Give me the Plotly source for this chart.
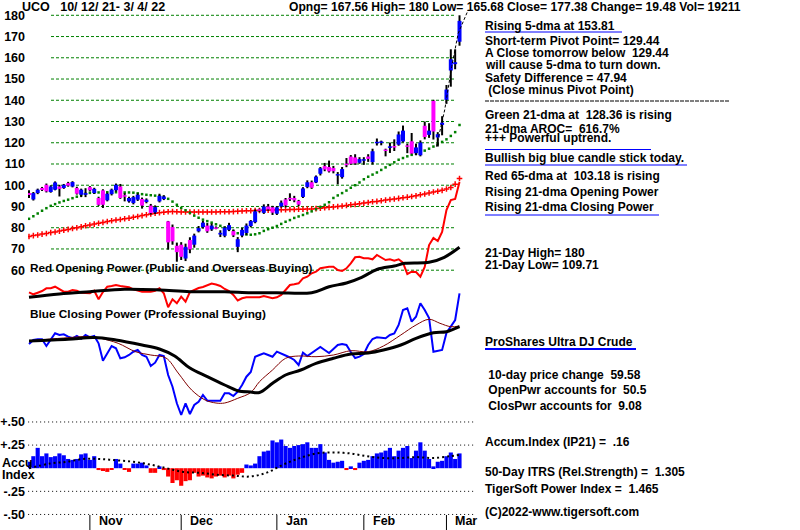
import plotly.graph_objects as go

# ---- daily price data, UCO 10/12/21 - 3/4/22 (100 sessions) ----
days = list(range(100))
opens = [96.3, 93.3, 96.3, 98.7, 100.2, 96.8, 97.9, 99.4, 98.7, 101.0,
         99.4, 98.7, 95.5, 95.5, 99.1, 96.3, 94.0, 97.6, 92.9, 95.8,
         97.6, 99.4, 95.2, 92.4, 91.6, 93.2, 93.5, 92.1, 90.4, 87.2,
         92.4, 93.5, 83.0, 80.3, 71.5, 72.0, 65.5, 74.2, 72.0, 78.3,
         80.3, 81.0, 79.2, 80.0, 76.8, 76.2, 79.0, 78.4, 71.0, 76.3,
         77.5, 80.8, 82.6, 88.6, 87.0, 90.0, 89.6, 86.6, 90.0, 93.3,
         94.0, 94.0, 92.6, 94.5, 99.2, 101.4, 101.3, 105.4, 109.0, 108.6,
         108.1, 104.6, 103.8, 110.0, 113.5, 113.1, 110.6, 111.6, 113.5, 110.9,
         119.9, 120.1, 116.8, 117.6, 118.3, 119.1, 120.6, 118.6, 120.7, 115.1,
         114.1, 128.0, 123.7, 139.7, 122.5, 128.4, 140.2, 154.0, 157.0, 167.56]
highs = [97.6, 96.8, 98.4, 99.2, 100.8, 100.0, 101.8, 100.2, 100.6, 101.6,
         101.9, 99.3, 98.4, 98.6, 99.6, 98.8, 94.6, 98.1, 96.5, 98.4,
         100.8, 100.6, 96.3, 94.6, 95.0, 96.2, 94.2, 93.8, 91.2, 90.5,
         96.0, 95.3, 83.2, 81.5, 73.0, 73.2, 72.5, 75.5, 77.2, 80.8,
         83.2, 82.2, 82.0, 80.6, 78.8, 80.6, 82.3, 79.2, 75.6, 80.0,
         82.0, 83.6, 88.6, 89.0, 91.0, 91.2, 90.3, 90.2, 92.8, 94.0,
         96.2, 95.0, 93.1, 99.1, 102.3, 102.2, 104.6, 108.6, 110.5, 111.6,
         109.1, 106.2, 108.6, 112.8, 114.2, 114.6, 113.2, 113.2, 114.6, 117.2,
         122.0, 121.0, 117.2, 120.1, 121.6, 125.3, 128.1, 119.6, 124.6, 119.6,
         121.1, 130.0, 129.2, 140.2, 125.0, 132.5, 147.2, 164.0, 164.0, 180.0]
lows = [94.0, 92.8, 95.8, 97.3, 96.6, 96.5, 97.6, 94.7, 98.3, 99.3,
        99.0, 95.6, 94.4, 94.4, 97.1, 95.9, 90.3, 89.3, 92.4, 95.2,
        97.0, 93.6, 92.4, 91.8, 91.0, 92.6, 89.0, 91.5, 86.2, 86.5,
        91.9, 93.0, 69.7, 72.0, 64.0, 64.8, 64.3, 68.0, 70.6, 77.8,
        79.6, 77.6, 78.5, 79.3, 75.6, 75.5, 78.4, 75.6, 68.5, 75.5,
        76.6, 80.2, 82.1, 87.3, 86.5, 88.0, 86.0, 86.0, 89.5, 89.6,
        92.6, 92.0, 90.2, 94.0, 98.6, 98.3, 101.0, 104.6, 106.6, 106.0,
        105.6, 100.4, 103.1, 108.5, 109.6, 109.6, 110.1, 109.6, 111.0, 109.71,
        118.7, 118.8, 113.6, 115.2, 116.1, 118.6, 120.1, 115.1, 114.6, 114.1,
        113.6, 121.6, 122.3, 121.5, 118.2, 123.5, 138.3, 146.4, 154.6, 165.68]
closes = [95.4, 96.3, 97.9, 97.8, 97.1, 99.4, 101.3, 98.3, 100.2, 99.8,
          101.5, 96.0, 97.9, 96.3, 97.6, 98.3, 90.8, 90.8, 96.0, 97.9,
          100.2, 94.0, 94.7, 94.0, 94.4, 95.5, 90.4, 93.2, 86.9, 89.7,
          95.0, 94.7, 73.1, 73.6, 68.5, 66.3, 71.0, 69.8, 76.3, 79.8,
          82.4, 78.3, 81.0, 79.6, 77.6, 80.0, 81.2, 76.4, 74.6, 79.0,
          81.0, 83.2, 87.7, 88.1, 90.0, 88.6, 87.1, 89.6, 91.8, 90.5,
          93.4, 92.9, 90.9, 98.5, 101.4, 98.8, 104.1, 108.0, 107.4, 106.5,
          106.6, 105.2, 107.6, 109.6, 110.1, 110.3, 112.3, 112.2, 112.4, 116.0,
          120.3, 120.4, 116.1, 118.3, 117.9, 123.9, 125.7, 118.2, 114.9, 117.8,
          120.1, 122.7, 125.7, 125.3, 124.0, 129.44, 145.03, 159.3, 157.9, 177.38]

# green 21-dma and red 65-dma of price
ma21 = [84.2, 85.4, 86.7, 88.0, 89.2, 90.3, 91.1, 91.9, 92.6, 93.2,
        93.9, 94.6, 95.3, 96.0, 96.4, 96.5, 96.6, 96.7, 96.7, 96.7,
        96.7, 96.7, 96.6, 96.6, 96.5, 96.2, 95.8, 95.5, 95.3, 95.1,
        94.9, 94.5, 93.6, 92.3, 90.8, 89.3, 88.2, 87.0, 85.7, 84.7,
        83.8, 83.1, 82.4, 81.6, 80.9, 80.1, 79.2, 78.4, 77.4, 76.9,
        76.8, 76.7, 76.9, 77.4, 78.5, 79.3, 80.0, 80.8, 81.8, 82.8,
        83.6, 84.6, 85.3, 86.0, 86.8, 87.7, 88.7, 89.7, 90.8, 92.0,
        94.0, 95.2, 96.3, 97.5, 98.8, 100.0, 101.3, 102.8, 104.0, 105.0,
        106.0, 107.2, 108.4, 109.6, 110.8, 112.0, 112.8, 113.6, 114.3, 114.9,
        115.5, 116.3, 117.2, 118.2, 119.3, 120.4, 121.6, 123.2, 125.0, 128.36]
ma65 = [75.9, 76.3, 76.6, 77.0, 77.3, 77.7, 78.0, 78.4, 78.8, 79.2,
        79.6, 80.0, 80.4, 80.9, 81.3, 81.7, 82.1, 82.5, 82.9, 83.3,
        83.6, 83.9, 84.2, 84.5, 84.9, 85.3, 85.7, 86.1, 86.5, 86.8,
        87.1, 87.3, 87.5, 87.6, 87.5, 87.4, 87.4, 87.4, 87.4, 87.4,
        87.4, 87.4, 87.4, 87.4, 87.5, 87.5, 87.5, 87.6, 87.7, 87.9,
        88.0, 88.0, 88.1, 88.1, 88.2, 88.3, 88.4, 88.5, 88.5, 88.5,
        88.6, 88.6, 88.7, 88.7, 88.8, 88.8, 89.0, 89.2, 89.4, 89.6,
        89.8, 90.0, 90.2, 90.5, 90.8, 91.0, 91.3, 91.6, 91.9, 92.2,
        92.4, 92.7, 93.0, 93.3, 93.5, 93.8, 94.1, 94.4, 94.7, 95.0,
        95.5, 95.9, 96.4, 96.8, 97.2, 97.6, 98.2, 98.9, 100.5, 103.18]
trend_x = [93.7, 95.6, 97.2, 98.7, 101]
trend_y = [118.2, 135.5, 155.8, 171.5, 182.5]

# Red Opening Power and its 21-dma (arbitrary units)
open_power = [7.7, 5.7, 7.3, 9, 11.7, 11.7, 13.3, 10.7, 8.3, 8.3,
              10, 9.3, 7.3, 7, 6.7, 9.3, 0.7, 8, 13.3, 14,
              15, 14, 13.3, 12.7, 10.7, 9.3, 8.3, 8.3, 8.3, 9.3,
              11.7, 6.7, -7.3, 0.7, -3.3, 3.3, -1.7, 8, 10, 12,
              13, 15, 16.5, 15.5, 14, 11, 9, 5, -0.5, 1.7,
              2.7, 2.7, 2.7, 2.7, 4, 2.7, 1.7, 2.7, 5, 10,
              15, 15.7, 16.7, 21.7, 23.3, 26.7, 28.3, 31.7, 32.7, 33.3,
              33.3, 30, 29, 31.7, 36.7, 42.7, 43.3, 41.7, 41.7, 40.7,
              45, 42.7, 40, 40.7, 39.3, 40.7, 37.3, 26, 28.3, 28,
              23.3, 33, 55, 62, 59, 68, 90, 100, 101, 118]
op_ma_x = [0, 7, 14, 22, 30, 37, 45, 51, 57, 65, 69, 73, 76.5, 80, 84, 86.5, 92, 95.5, 99]
op_ma = [2.7, 6, 8.3, 10.7, 10, 8.3, 8.3, 7.3, 7.3, 7.3, 13.3, 17, 22.7, 30.5, 34, 36.7, 37.7, 42.7, 52.7]

# Blue Closing Power, its fast average (brown) and 21-dma (black)
close_power = [56, 60, 60.7, 60.7, 54, 60, 66.7, 65, 65.7, 63.3,
               61.7, 64, 61.3, 65, 62.7, 64, 56.7, 39.3, 46, 54,
               51.7, 41.7, 42.7, 45, 48.3, 50, 45, 43.3, 34, 37.3,
               45, 44, 25, 13.3, -3.3, -15, -3.3, -14, -5, -1.7,
               5, -0.7, -0.7, -0.7, -0.7, 6.7, 6.7, 4, 8.3, 15,
               23.3, 28, 43.3, 45, 46.7, 45, 43.3, 48.3, 46, 44.5,
               42.5, 40, 35, 47.3, 44, 47, 50, 53, 50, 47,
               51, 55, 56, 55, 48, 42, 43.3, 46, 55, 61,
               62.7, 62, 61.7, 65, 66.5, 75, 90, 91.7, 78.3, 83.3,
               96.7, 90, 82, 48.3, 49, 50, 67, 73.3, 80, 106.7]
cp_fast_x = [0, 8, 14.5, 16.5, 20.5, 24.5, 28, 31.5, 34.3, 37.4, 40.5, 43, 45, 48, 51,
             53, 56, 59, 62, 66, 70, 74, 78, 81.5, 85.5, 89, 92, 94.5, 97, 99]
cp_fast = [59, 62, 63.5, 61.7, 56.7, 48.3, 45, 42, 27, 10, 0, -3, -3, 1.7, 7.5,
           18.3, 30, 41.7, 44, 43.3, 45, 49.3, 48.3, 54, 65, 75, 80.7, 76.7, 73.3, 74]
cp_ma_x = [0, 9, 15, 20, 26, 30, 33.5, 37, 41, 45, 48, 51, 53, 56, 59, 62.5, 66,
           70, 74, 78, 81.5, 85.5, 89, 93, 96, 99]
cp_ma = [59, 60.7, 62.5, 60, 55, 51, 44, 32, 23.3, 15, 9.3, 8, 7.5, 16.7, 25, 30, 36.7,
         41.7, 46, 47, 50, 55, 61.7, 67.3, 68.3, 73.3]

# Accumulation Index (IP21) and its average
accum = [0.07, 0.13, 0.22, 0.13, 0.16, 0.12, 0.13, 0.16, 0.14, 0.10,
         0.09, 0.10, 0.15, 0.16, 0.09, 0.13, -0.02, -0.03, -0.04, -0.01,
         0.10, 0.05, -0.01, -0.04, 0.05, 0.05, 0.06, 0.03, -0.05, -0.05,
         0.02, -0.02, -0.09, -0.16, -0.13, -0.19, -0.14, -0.13, -0.05, -0.09,
         -0.08, -0.10, -0.11, -0.09, -0.08, -0.10, -0.08, -0.11, -0.07, -0.05,
         0.04, 0.03, 0.05, 0.13, 0.18, 0.19, 0.30, 0.28, 0.31, 0.24,
         0.22, 0.24, 0.25, 0.26, 0.28, 0.22, 0.22, 0.26, 0.17, 0.09,
         0.06, 0.07, 0.08, -0.02, 0.02, -0.02, 0.06, 0.08, 0.09, 0.13,
         0.16, 0.17, 0.19, 0.22, 0.13, 0.19, 0.22, 0.24, 0.11, 0.19,
         0.28, 0.19, 0.10, 0.02, 0.07, 0.08, 0.13, 0.17, 0.10, 0.16]
accum_ma_x = [0, 4.8, 8.7, 12.5, 16.3, 20.2, 24, 27.8, 31.6, 35.5, 39.3, 43.1, 47, 50.8,
              54.6, 58.5, 62.3, 66.1, 70, 73.8, 77.6, 81.5, 85.3, 89.1, 93, 96.8, 99]
accum_ma = [0, 0.05, 0.07, 0.10, 0.10, 0.085, 0.07, 0.04, 0, -0.04, -0.05, -0.07, -0.08, -0.09,
            -0.05, 0.04, 0.11, 0.16, 0.17, 0.16, 0.13, 0.11, 0.11, 0.12, 0.11, 0.13, 0.145]

price_ticks = list(range(60, 190, 10))
acc_ticks = [0.5, 0.25, -0.25, -0.5]
acc_labels = ["+.50", "+.25", "-.25", "-.50"]
months = ["Nov", "Dec", "Jan", "Feb", "Mar"]
month_starts = [14, 35, 57, 77, 96]

BLUE = "#0000ff"
MAGENTA = "#ff00ff"
GREEN = "#008000"
RED = "#ff0000"
FONT = "Liberation Sans"

W, H, ML = 800, 530, 28


def px(x):
    return (x - ML) / (W - ML)


def py(y):
    return 1 - y / H


fig = go.Figure()

# Opening power panel
fig.add_trace(go.Scatter(x=days, y=open_power, yaxis="y3", mode="lines",
                         line=dict(color=RED, width=2)))
fig.add_trace(go.Scatter(x=op_ma_x, y=op_ma, yaxis="y3", mode="lines",
                         line=dict(color="black", width=3, shape="spline")))
# Closing power panel
fig.add_trace(go.Scatter(x=days, y=close_power, yaxis="y4", mode="lines",
                         line=dict(color=BLUE, width=2)))
fig.add_trace(go.Scatter(x=cp_fast_x, y=cp_fast, yaxis="y4", mode="lines",
                         line=dict(color="#800000", width=1, shape="spline")))
fig.add_trace(go.Scatter(x=cp_ma_x, y=cp_ma, yaxis="y4", mode="lines",
                         line=dict(color="black", width=3, shape="spline")))

# moving averages of price
fig.add_trace(go.Scatter(x=days, y=ma65, mode="markers",
                         marker=dict(symbol="cross-thin", size=4, color=RED,
                                     line=dict(width=1.5, color=RED))))
fig.add_trace(go.Scatter(x=days, y=ma21, mode="markers",
                         marker=dict(symbol="square", size=2.5, color=GREEN, line_width=0)))

# candles: black wicks, then coloured bodies drawn on top
wx, wy = [], []
for d, h, l in zip(days, highs, lows):
    wx += [d, d, None]
    wy += [l, h, None]
fig.add_trace(go.Scatter(x=wx, y=wy, mode="lines", line=dict(color="black", width=2)))
for up, col in [(True, BLUE), (False, MAGENTA)]:
    bx, by = [], []
    for d, o, c in zip(days, opens, closes):
        if (c >= o) == up:
            lo, hi = min(o, c), max(o, c)
            if hi - lo < 0.7:
                lo, hi = (lo + hi) / 2 - 0.35, (lo + hi) / 2 + 0.35
            bx += [d, d, None]
            by += [lo, hi, None]
    fig.add_trace(go.Scatter(x=bx, y=by, mode="lines", line=dict(color=col, width=4)))
fig.add_trace(go.Scatter(x=trend_x, y=trend_y, mode="lines",
                         line=dict(color="black", width=1, dash="3px,2px")))

# accumulation index
fig.add_trace(go.Bar(x=days, y=accum, yaxis="y2", width=0.95,
                     marker=dict(color=[BLUE if a >= 0 else RED for a in accum], line_width=0)))
fig.add_trace(go.Scatter(x=accum_ma_x, y=accum_ma, yaxis="y2", mode="lines",
                         line=dict(color="black", width=2, dash="2px,3px", shape="spline")))

shapes = []
for v in price_ticks:
    shapes.append(dict(type="line", xref="x", yref="y", x0=5.06, x1=97.9, y0=v, y1=v,
                       line=dict(color=GREEN, width=1, dash="3px,2px"), layer="below"))
for v in acc_ticks:
    shapes.append(dict(type="line", xref="x", yref="y2", x0=-0.2, x1=102.5, y0=v, y1=v,
                       line=dict(color="black", width=1, dash="1px,3px"), layer="below"))
for m in month_starts:
    shapes.append(dict(type="line", xref="x", yref="paper", x0=m, x1=m,
                       y0=py(530), y1=py(515), line=dict(color="black", width=1)))

# blue underlines and separator in the text panel
for x1, y, w in [(622, 32, 1), (651, 149.5, 1), (687, 165, 1), (659, 215, 1), (636, 349, 2)]:
    shapes.append(dict(type="line", xref="paper", yref="paper", x0=px(485), x1=px(x1),
                       y0=py(y), y1=py(y), line=dict(color=BLUE, width=w)))
shapes.append(dict(type="line", xref="paper", yref="paper", x0=px(485), x1=px(729),
                   y0=py(101), y1=py(101), line=dict(color="black", width=1, dash="4px,1px")))

annotations = []


def text(s, x, y, size=12):
    annotations.append(dict(text=s.replace("  ", " \u00a0"), x=px(x), y=py(y),
                            xref="paper", yref="paper", xanchor="left", yanchor="middle",
                            showarrow=False,
                            font=dict(family=FONT, size=size, color="black", weight="bold")))


text("UCO   10/ 12/ 21- 3/ 4/ 22", 20, 7, 12.5)
text("Opng= 167.56 High= 180 Low= 165.68 Close= 177.38 Change= 19.48 Vol= 19211", 287, 7, 12.1)
panel = [
    ("Rising 5-dma at 153.81", 25.7),
    ("Short-term Pivot Point= 129.44", 41),
    ("A Close tomorrow below  129.44", 52.7),
    ("will cause 5-dma to turn down.", 65),
    ("Safety Difference = 47.94", 78),
    (" (Close minus Pivot Point)", 90),
    ("Green 21-dma at  128.36 is rising", 115),
    ("21-dma AROC=  616.7%", 129.3),
    ("+++ Powerful uptrend.", 137.7),
    ("Bullish big blue candle stick today.", 157.7),
    ("Red 65-dma at  103.18 is rising", 175.7),
    ("Rising 21-dma Opening Power", 192),
    ("Rising 21-dma Closing Power", 206.7),
    ("21-Day High= 180", 252.7),
    ("21-Day Low= 109.71", 265),
    ("ProShares Ultra DJ Crude", 341.7),
    (" 10-day price change  59.58", 375),
    (" OpenPwr accounts for  50.5", 390),
    (" ClosPwr accounts for  9.08", 405.7),
    ("Accum.Index (IP21) =  .16", 441.7),
    ("50-Day ITRS (Rel.Strength) =  1.305", 471.7),
    ("TigerSoft Power Index =  1.465", 489.3),
    ("(C)2022-www.tigersoft.com", 511.7),
]
for s, y in panel:
    text(s, 483, y)
text("Red Opening Power (Public and Overseas Buying)", 28, 268, 11.8)
text("Blue Closing Power (Professional Buying)", 28, 314, 11.8)
text("Accu", 0, 463, 12.5)
text("Index", 0, 475, 12.5)
for m, s in zip(month_starts, months):
    annotations.append(dict(text=s, x=m, y=py(521), xref="x", yref="paper", xanchor="left",
                            yanchor="middle", xshift=7, showarrow=False,
                            font=dict(family=FONT, size=12.5, color="black", weight="bold")))

tickfont = dict(family=FONT, size=12.5, color="black", weight="bold")
fig.update_layout(
    width=W, height=H,
    margin=dict(l=ML, r=0, t=0, b=0),
    paper_bgcolor="white", plot_bgcolor="white",
    showlegend=False, hovermode=False, barmode="overlay",
    xaxis=dict(range=[-0.23, 177.3], visible=False),
    yaxis=dict(range=[-62.3, 187.2], tickvals=price_ticks, showgrid=False, zeroline=False,
               ticks="", tickfont=tickfont, ticklabelstandoff=2),
    yaxis2=dict(range=[-0.668, 5.062], overlaying="y", anchor="x", side="left",
                tickvals=acc_ticks, ticktext=acc_labels, showgrid=False, zeroline=False,
                ticks="", tickfont=tickfont, ticklabelstandoff=2),
    yaxis3=dict(range=[-230, 300], overlaying="y", visible=False),
    yaxis4=dict(range=[-130, 400], overlaying="y", visible=False),
    shapes=shapes,
    annotations=annotations,
)

# the page body has a default 8px margin; drop it so the chart fills the window
fig.write_html("out.html", config={"displayModeBar": False},
               post_script="document.body.style.margin='0';")
